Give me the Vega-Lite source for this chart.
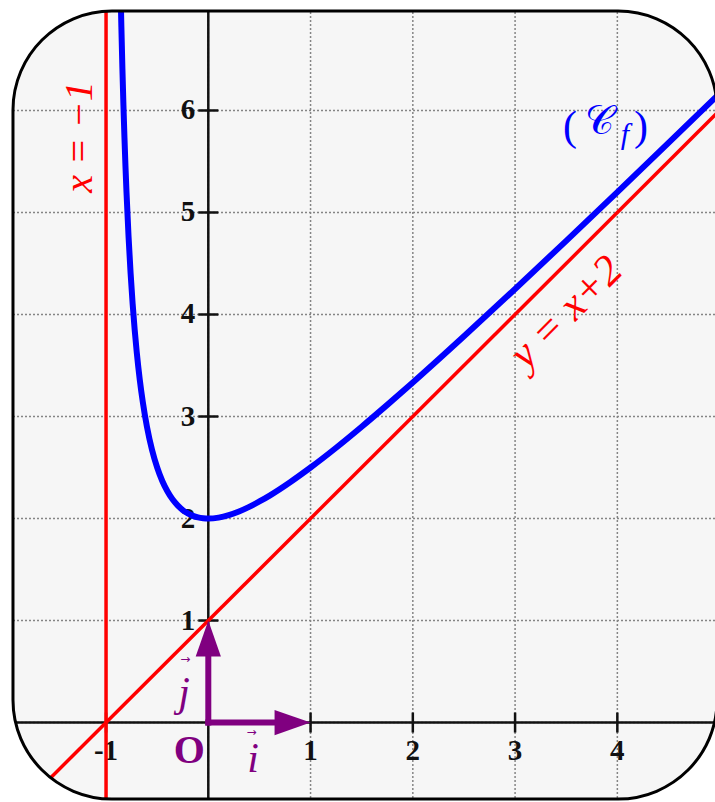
{
  "$schema": "https://vega.github.io/schema/vega-lite/v6.json",
  "width": 715,
  "height": 802,
  "padding": 0,
  "autosize": {"type": "none"},
  "background": "#ffffff",
  "config": {"view": {"stroke": null, "fill": "#f6f6f6"}, "axis": {"disable": true}},
  "datasets": {
    "gridx": [{"x": -1}, {"x": 0}, {"x": 1}, {"x": 2}, {"x": 3}, {"x": 4}],
    "gridy": [{"y": 0}, {"y": 1}, {"y": 2}, {"y": 3}, {"y": 4}, {"y": 5}, {"y": 6}],
    "xticks": [{"x": -1, "y": 0, "t": "-1"}, {"x": 1, "y": 0, "t": "1"}, {"x": 2, "y": 0, "t": "2"}, {"x": 3, "y": 0, "t": "3"}, {"x": 4, "y": 0, "t": "4"}],
    "yticks": [{"x": 0, "y": 1, "t": "1"}, {"x": 0, "y": 2, "t": "2"}, {"x": 0, "y": 3, "t": "3"}, {"x": 0, "y": 4, "t": "4"}, {"x": 0, "y": 5, "t": "5"}, {"x": 0, "y": 6, "t": "6"}],
    "asym": [{"x": -2.1, "y": -1.1}, {"x": 5.0, "y": 6.0}],
    "curve": [
      {"x": -0.86, "y": 7.283}, {"x": -0.855, "y": 7.042}, {"x": -0.85, "y": 6.817}, {"x": -0.84, "y": 6.41},
      {"x": -0.83, "y": 6.052}, {"x": -0.82, "y": 5.736}, {"x": -0.81, "y": 5.453}, {"x": -0.8, "y": 5.2},
      {"x": -0.78, "y": 4.765}, {"x": -0.76, "y": 4.407}, {"x": -0.74, "y": 4.106}, {"x": -0.72, "y": 3.851},
      {"x": -0.7, "y": 3.633}, {"x": -0.67, "y": 3.36}, {"x": -0.64, "y": 3.138}, {"x": -0.6, "y": 2.9},
      {"x": -0.55, "y": 2.672}, {"x": -0.5, "y": 2.5}, {"x": -0.45, "y": 2.368}, {"x": -0.4, "y": 2.267},
      {"x": -0.35, "y": 2.188}, {"x": -0.3, "y": 2.129}, {"x": -0.25, "y": 2.083}, {"x": -0.2, "y": 2.05},
      {"x": -0.15, "y": 2.026}, {"x": -0.1, "y": 2.011}, {"x": -0.05, "y": 2.003}, {"x": 0, "y": 2.0},
      {"x": 0.1, "y": 2.009}, {"x": 0.2, "y": 2.033}, {"x": 0.3, "y": 2.069}, {"x": 0.4, "y": 2.114},
      {"x": 0.5, "y": 2.167}, {"x": 0.6, "y": 2.225}, {"x": 0.8, "y": 2.356}, {"x": 1.0, "y": 2.5},
      {"x": 1.25, "y": 2.694}, {"x": 1.5, "y": 2.9}, {"x": 1.75, "y": 3.114}, {"x": 2.0, "y": 3.333},
      {"x": 2.5, "y": 3.786}, {"x": 3.0, "y": 4.25}, {"x": 3.5, "y": 4.722}, {"x": 4.0, "y": 5.2},
      {"x": 4.5, "y": 5.682}, {"x": 5.0, "y": 6.167}
    ],
    "vectors": [{"x": 0, "y": 0, "x2": 0, "y2": 0.75}, {"x": 0, "y": 0, "x2": 0.75, "y2": 0}],
    "frame": [{"x": -1.91, "x2": 4.975, "y": 6.975, "y2": -0.75}],
    "mask": [{"x": -2.301, "x2": 5.366, "y": 7.368, "y2": -1.142}]
  },
  "layer": [
    {
      "data": {"name": "gridx"},
      "mark": {"type": "rule", "color": "#858585", "strokeWidth": 1.5, "strokeDash": [2, 2]},
      "encoding": {"x": {"field": "x", "type": "quantitative", "scale": {"domain": [-2.037, 4.955], "nice": false, "zero": false}}}
    },
    {
      "data": {"name": "gridy"},
      "mark": {"type": "rule", "color": "#858585", "strokeWidth": 1.5, "strokeDash": [2, 2]},
      "encoding": {"y": {"field": "y", "type": "quantitative", "scale": {"domain": [-0.779, 7.083], "nice": false, "zero": false}}}
    },
    {
      "data": {"values": [{"x": 0}]},
      "mark": {"type": "rule", "color": "#111111", "strokeWidth": 2.5},
      "encoding": {"x": {"field": "x", "type": "quantitative"}}
    },
    {
      "data": {"values": [{"y": 0}]},
      "mark": {"type": "rule", "color": "#111111", "strokeWidth": 2.5},
      "encoding": {"y": {"field": "y", "type": "quantitative"}}
    },
    {
      "data": {"name": "xticks"},
      "mark": {"type": "tick", "orient": "vertical", "color": "#111111", "size": 20, "thickness": 2.5, "opacity": 1},
      "encoding": {"x": {"field": "x", "type": "quantitative"}, "y": {"field": "y", "type": "quantitative"}}
    },
    {
      "data": {"name": "yticks"},
      "mark": {"type": "tick", "orient": "horizontal", "color": "#111111", "size": 20, "thickness": 2.5, "opacity": 1},
      "encoding": {"x": {"field": "x", "type": "quantitative"}, "y": {"field": "y", "type": "quantitative"}}
    },
    {
      "data": {"name": "xticks"},
      "mark": {"type": "text", "font": "Liberation Serif", "fontWeight": "bold", "fontSize": 29, "color": "#111111", "align": "center", "baseline": "middle", "dy": 28},
      "encoding": {"x": {"field": "x", "type": "quantitative"}, "y": {"field": "y", "type": "quantitative"}, "text": {"field": "t"}}
    },
    {
      "data": {"name": "yticks"},
      "mark": {"type": "text", "font": "Liberation Serif", "fontWeight": "bold", "fontSize": 29, "color": "#111111", "align": "right", "baseline": "middle", "dx": -13},
      "encoding": {"x": {"field": "x", "type": "quantitative"}, "y": {"field": "y", "type": "quantitative"}, "text": {"field": "t"}}
    },
    {
      "data": {"values": [{"x": -1}]},
      "mark": {"type": "rule", "color": "#ff0000", "strokeWidth": 3.5},
      "encoding": {"x": {"field": "x", "type": "quantitative"}}
    },
    {
      "data": {"name": "asym"},
      "mark": {"type": "line", "color": "#ff0000", "strokeWidth": 3.5, "clip": true},
      "encoding": {"x": {"field": "x", "type": "quantitative"}, "y": {"field": "y", "type": "quantitative"}}
    },
    {
      "data": {"name": "curve"},
      "mark": {"type": "line", "color": "#0000ff", "strokeWidth": 6, "interpolate": "monotone", "clip": true},
      "encoding": {"x": {"field": "x", "type": "quantitative"}, "y": {"field": "y", "type": "quantitative"}}
    },
    {
      "data": {"name": "vectors"},
      "mark": {"type": "rule", "color": "#800080", "strokeWidth": 6, "strokeCap": "square"},
      "encoding": {"x": {"field": "x", "type": "quantitative"}, "y": {"field": "y", "type": "quantitative"}, "x2": {"field": "x2"}, "y2": {"field": "y2"}}
    },
    {
      "data": {"values": [{"x": 0, "y": 1}]},
      "mark": {"type": "point", "shape": "M0,0L-0.35,1L0.35,1Z", "size": 5184, "filled": true, "opacity": 1, "color": "#800080", "strokeWidth": 0},
      "encoding": {"x": {"field": "x", "type": "quantitative"}, "y": {"field": "y", "type": "quantitative"}}
    },
    {
      "data": {"values": [{"x": 1, "y": 0}]},
      "mark": {"type": "point", "shape": "M0,0L-1,-0.35L-1,0.35Z", "size": 5184, "filled": true, "opacity": 1, "color": "#800080", "strokeWidth": 0},
      "encoding": {"x": {"field": "x", "type": "quantitative"}, "y": {"field": "y", "type": "quantitative"}}
    },
    {
      "data": {"values": [{"x": 0, "y": 0, "t": "O"}]},
      "mark": {"type": "text", "font": "Liberation Serif", "fontWeight": "bold", "fontSize": 40, "color": "#800080", "align": "center", "baseline": "middle", "dx": -19, "dy": 28},
      "encoding": {"x": {"field": "x", "type": "quantitative"}, "y": {"field": "y", "type": "quantitative"}, "text": {"field": "t"}}
    },
    {
      "data": {"values": [{"x": -0.238, "y": 0.29, "t": "j"}, {"x": 0.437, "y": -0.36, "t": "i"}]},
      "mark": {"type": "text", "font": "Liberation Serif", "fontStyle": "italic", "fontSize": 42, "color": "#800080", "align": "center", "baseline": "middle"},
      "encoding": {"x": {"field": "x", "type": "quantitative"}, "y": {"field": "y", "type": "quantitative"}, "text": {"field": "t"}}
    },
    {
      "data": {"values": [{"x": -0.224, "y": 0.62, "t": "→"}, {"x": 0.4235, "y": -0.088, "t": "→"}]},
      "mark": {"type": "text", "font": "DejaVu Sans", "fontSize": 12, "color": "#800080", "align": "center", "baseline": "middle"},
      "encoding": {"x": {"field": "x", "type": "quantitative"}, "y": {"field": "y", "type": "quantitative"}, "text": {"field": "t"}}
    },
    {
      "data": {"values": [{"x": -1.255, "y": 5.74, "t": "x = −1"}]},
      "mark": {"type": "text", "font": "Liberation Serif", "fontStyle": "italic", "fontSize": 40, "color": "#ff0000", "align": "center", "baseline": "middle", "angle": 270},
      "encoding": {"x": {"field": "x", "type": "quantitative"}, "y": {"field": "y", "type": "quantitative"}, "text": {"field": "t"}}
    },
    {
      "data": {"values": [{"x": 3.5, "y": 4.02, "t": "y = x+2"}]},
      "mark": {"type": "text", "font": "Liberation Serif", "fontStyle": "italic", "fontSize": 43, "color": "#ff0000", "align": "center", "baseline": "middle", "angle": 315},
      "encoding": {"x": {"field": "x", "type": "quantitative"}, "y": {"field": "y", "type": "quantitative"}, "text": {"field": "t"}}
    },
    {
      "data": {"values": [{"x": 3.537, "y": 5.838, "t": "("}, {"x": 4.232, "y": 5.838, "t": ")"}]},
      "mark": {"type": "text", "font": "Liberation Serif", "fontSize": 42, "color": "#0000ff", "align": "center", "baseline": "middle"},
      "encoding": {"x": {"field": "x", "type": "quantitative"}, "y": {"field": "y", "type": "quantitative"}, "text": {"field": "t"}}
    },
    {
      "data": {"values": [{"x": 3.83, "y": 5.887, "t": "𝒞"}]},
      "mark": {"type": "text", "font": "Liberation Serif", "fontSize": 40, "color": "#0000ff", "align": "center", "baseline": "middle"},
      "encoding": {"x": {"field": "x", "type": "quantitative"}, "y": {"field": "y", "type": "quantitative"}, "text": {"field": "t"}}
    },
    {
      "data": {"values": [{"x": 4.075, "y": 5.76, "t": "f"}]},
      "mark": {"type": "text", "font": "Liberation Serif", "fontStyle": "italic", "fontSize": 30, "color": "#0000ff", "align": "center", "baseline": "middle"},
      "encoding": {"x": {"field": "x", "type": "quantitative"}, "y": {"field": "y", "type": "quantitative"}, "text": {"field": "t"}}
    },
    {
      "data": {"name": "mask"},
      "mark": {"type": "rect", "fillOpacity": 0, "stroke": "#ffffff", "strokeWidth": 80, "cornerRadius": 139},
      "encoding": {"x": {"field": "x", "type": "quantitative"}, "x2": {"field": "x2"}, "y": {"field": "y", "type": "quantitative"}, "y2": {"field": "y2"}}
    },
    {
      "data": {"name": "frame"},
      "mark": {"type": "rect", "fillOpacity": 0, "stroke": "#000000", "strokeWidth": 3, "cornerRadius": 99},
      "encoding": {"x": {"field": "x", "type": "quantitative"}, "x2": {"field": "x2"}, "y": {"field": "y", "type": "quantitative"}, "y2": {"field": "y2"}}
    }
  ]
}
